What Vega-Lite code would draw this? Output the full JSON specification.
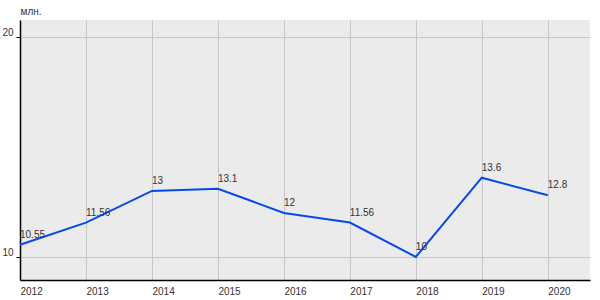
{
  "$schema": "https://vega.github.io/schema/vega-lite/v6.json",
  "width": 570,
  "height": 260,
  "autosize": {"type": "none"},
  "padding": {"left": 20, "top": 20, "right": 10, "bottom": 20},
  "background": "white",
  "config": {
    "view": {"fill": "#ebebeb", "stroke": null},
    "font": "Liberation Sans",
    "axis": {"labelFont": "Liberation Sans", "labelFontSize": 10, "labelColor": "#333333", "gridColor": "#c6c6c6", "gridWidth": 1, "domainColor": "#000000", "domainWidth": 1.5}
  },
  "data": {
    "values": [
      {"year": 2012, "value": 10.55, "label": "10.55"},
      {"year": 2013, "value": 11.56, "label": "11.56"},
      {"year": 2014, "value": 13, "label": "13"},
      {"year": 2015, "value": 13.1, "label": "13.1"},
      {"year": 2016, "value": 12, "label": "12"},
      {"year": 2017, "value": 11.56, "label": "11.56"},
      {"year": 2018, "value": 10, "label": "10"},
      {"year": 2019, "value": 13.6, "label": "13.6"},
      {"year": 2020, "value": 12.8, "label": "12.8"}
    ]
  },
  "encoding": {
    "x": {
      "field": "year", "type": "quantitative",
      "scale": {"domain": [2012, 2020.64], "nice": false, "zero": false},
      "axis": {"values": [2012, 2013, 2014, 2015, 2016, 2017, 2018, 2019, 2020], "format": "d", "title": null, "ticks": false, "labelPadding": 6, "labelAlign": "left", "labelFlush": false}
    },
    "y": {
      "field": "value", "type": "quantitative",
      "scale": {"domain": [8.95, 20.77], "nice": false, "zero": false},
      "axis": {"values": [10, 20], "title": "млн.", "titleAngle": 0, "titleAlign": "left", "titleBaseline": "bottom", "titleX": 0, "titleY": -4, "titleFontSize": 10, "titleFontWeight": "normal", "titleColor": "#333333", "titleFont": "Liberation Sans", "tickSize": 4, "tickColor": "#000000", "labelPadding": 3, "labelBaseline": "alphabetic", "labelOffset": -1}
    }
  },
  "layer": [
    {"mark": {"type": "line", "color": "#0649ee", "strokeWidth": 2}},
    {"mark": {"type": "text", "align": "left", "baseline": "middle", "dy": -10, "fontSize": 10, "color": "#333333", "font": "Liberation Sans"}, "encoding": {"text": {"field": "label"}}}
  ]
}
